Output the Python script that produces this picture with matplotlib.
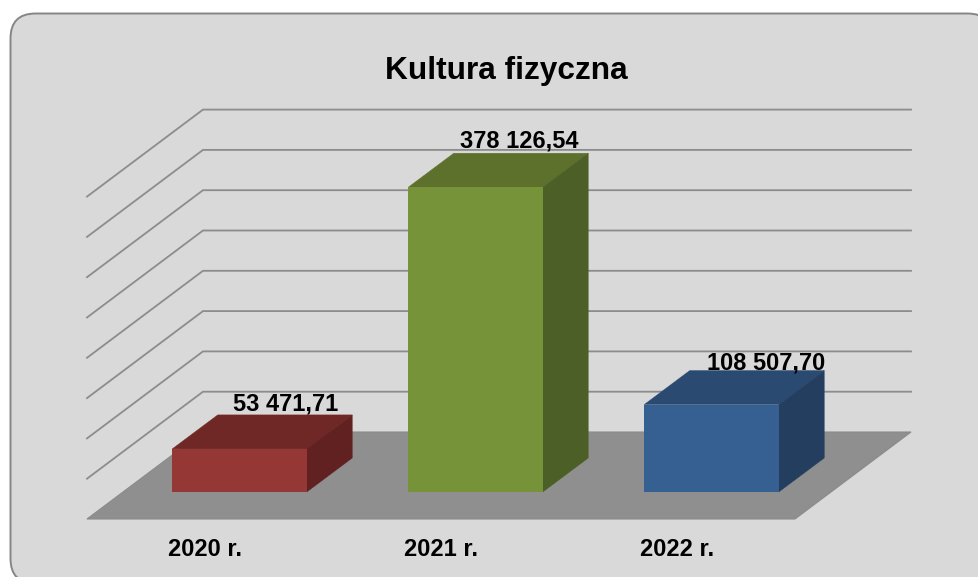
import matplotlib
matplotlib.use("Agg")
import matplotlib.pyplot as plt
from matplotlib.patches import FancyBboxPatch, Polygon

plt.rcParams['font.family'] = ['Liberation Sans', 'DejaVu Sans']

# data
title = "Kultura fizyczna"
categories = ["2020 r.", "2021 r.", "2022 r."]
values = [53471.71, 378126.54, 108507.70]
value_labels = ["53 471,71", "378 126,54", "108 507,70"]
front_colors = ["#953735", "#779339", "#376092"]
top_colors = ["#702826", "#5D702C", "#2A4A72"]
side_colors = ["#602120", "#4C5F26", "#233E5E"]
grid_values = [50000 * i for i in range(1, 9)]

# layout (pixels in a 979x577 picture)
W, H = 979, 577
CAT_X0, CAT_STEP = 239.5, 236.0
BASE_PX = 492.0
PX_PER_UNIT = 40.3 / 50000
BAR_W = 134.5 / CAT_STEP
DEPTH_X, DEPTH_Y = 45.5 / CAT_STEP, 34.0 / PX_PER_UNIT
FLOOR_FRONT_Y, FLOOR_BACK_Y = 519.0, 432.0
FLOOR_FRONT_X = (87.0, 795.0)
FLOOR_BACK_X = (203.0, 911.0)
label_dx = [46.3, 44, 54.5]
label_dy = [4, 6, 1]

def px_x(p):
    return (p - CAT_X0) / CAT_STEP

def px_y(p):
    return (BASE_PX - p) / PX_PER_UNIT

fig = plt.figure(figsize=(W / 100, H / 100), dpi=100, facecolor="white")

bg = fig.add_axes([0, 0, 1, 1])
bg.set_xlim(0, W); bg.set_ylim(H, 0); bg.axis("off")
bg.add_patch(FancyBboxPatch((10.5, 13.5), 982, 570,
                            boxstyle="round,pad=0,rounding_size=25", facecolor="#D9D9D9",
                            edgecolor="#868686", linewidth=1.4, clip_on=True))

ax = fig.add_axes([0, 0, 1, 1], facecolor="none")
ax.set_xlim(px_x(0), px_x(W))
ax.set_ylim(px_y(H), px_y(0))
ax.axis("off")

# floor
ax.add_patch(Polygon([(px_x(FLOOR_FRONT_X[0]), px_y(FLOOR_FRONT_Y)),
                      (px_x(FLOOR_FRONT_X[1]), px_y(FLOOR_FRONT_Y)),
                      (px_x(FLOOR_BACK_X[1]), px_y(FLOOR_BACK_Y)),
                      (px_x(FLOOR_BACK_X[0]), px_y(FLOOR_BACK_Y))],
                     closed=True, facecolor="#8F8F8F", edgecolor="#8A8A8A", linewidth=0.8))

# gridlines: wall diagonal + back wall
back0 = px_y(FLOOR_BACK_Y)
drop = px_y(FLOOR_FRONT_Y) - back0
for g in grid_values:
    y = back0 + g
    ax.plot([px_x(FLOOR_FRONT_X[0]), px_x(FLOOR_BACK_X[0]), px_x(FLOOR_BACK_X[1])],
            [y + drop, y, y], color="#8C8C8C", lw=1.3, solid_joinstyle="miter", zorder=2)

# bars
xs = list(range(len(values)))
ax.bar(xs, values, width=BAR_W, color=front_colors, zorder=5, linewidth=0)
for x, v, tc, sc in zip(xs, values, top_colors, side_colors):
    l, r = x - BAR_W / 2, x + BAR_W / 2
    ax.add_patch(Polygon([(l, v), (r, v), (r + DEPTH_X, v + DEPTH_Y), (l + DEPTH_X, v + DEPTH_Y)],
                         closed=True, facecolor=tc, edgecolor=tc, linewidth=0.3, zorder=4))
    ax.add_patch(Polygon([(r, 0), (r + DEPTH_X, DEPTH_Y), (r + DEPTH_X, v + DEPTH_Y), (r, v)],
                         closed=True, facecolor=sc, edgecolor=sc, linewidth=0.3, zorder=4))

# value labels
for x, v, s, dx, dy in zip(xs, values, value_labels, label_dx, label_dy):
    ax.text(x + dx / CAT_STEP, v + DEPTH_Y + dy / PX_PER_UNIT, s, ha="center", va="baseline",
            fontsize=17, fontweight="bold", color="black", zorder=6)

# category labels
for x, s in zip(xs, categories):
    ax.text(x - 34.3 / CAT_STEP, px_y(555.5), s, ha="center", va="baseline",
            fontsize=17, fontweight="bold", color="black", zorder=6)

ax.text(px_x(506), px_y(78.5), title, ha="center", va="baseline",
        fontsize=22.8, fontweight="bold", color="black", zorder=6)

fig.savefig("out.png", dpi=100)
